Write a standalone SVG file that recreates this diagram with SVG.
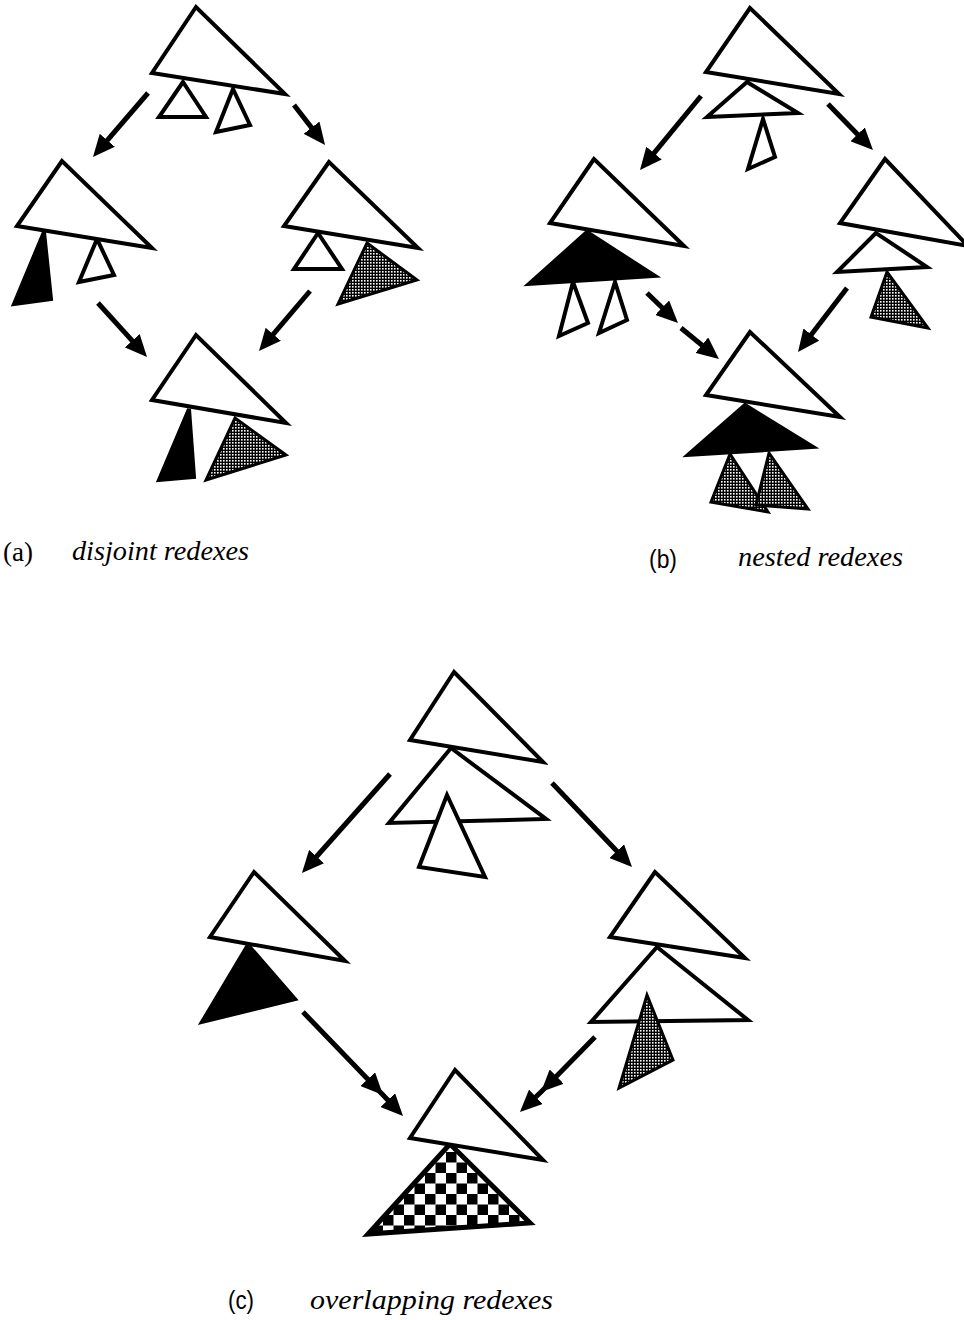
<svg xmlns="http://www.w3.org/2000/svg" width="964" height="1320" viewBox="0 0 964 1320">
<defs>
  <pattern id="dots" patternUnits="userSpaceOnUse" width="3" height="3">
    <rect width="3" height="3" fill="#000"/>
    <rect x="1" y="1" width="1.6" height="1.6" fill="#fff"/>
  </pattern>
  <pattern id="check" patternUnits="userSpaceOnUse" x="446" y="1152" width="21" height="21">
    <rect width="21" height="21" fill="#fff"/>
    <rect width="10.5" height="10.5" fill="#000"/>
    <rect x="10.5" y="10.5" width="10.5" height="10.5" fill="#000"/>
  </pattern>
  <marker id="ah" markerUnits="userSpaceOnUse" viewBox="0 0 22 20" markerWidth="22" markerHeight="20" refX="12" refY="10" orient="auto">
    <path d="M0,0 L22,10 L0,20 z" fill="#000"/>
  </marker>
  <marker id="ahm" markerUnits="userSpaceOnUse" viewBox="0 0 22 20" markerWidth="22" markerHeight="20" refX="22" refY="10" orient="auto">
    <path d="M0,0 L22,10 L0,20 z" fill="#000"/>
  </marker>
</defs>
<style>
  polygon { stroke: #000; stroke-width: 4; stroke-linejoin: miter; }
  .w { fill: #fff; }
  .b { fill: #000; }
  .g { fill: url(#dots); stroke-width: 3; }
  .c { fill: url(#check); stroke-width: 5; }
  .arr path, .arr line { stroke: #000; stroke-width: 5; fill: none; marker-end: url(#ah); }
  .dbl { marker-mid: url(#ahm); }
  .up { font-family: "Liberation Serif", "Times New Roman", serif; font-size: 27px; fill: #000; }
  .sf { font-family: "Liberation Sans", Arial, sans-serif; font-size: 25px; fill: #000; }
  .it { font-family: "Liberation Serif", "Times New Roman", serif; font-style: italic; font-size: 28px; fill: #000; }
</style>

<!-- Panel (a) -->
<g id="a-top">
  <polygon class="w" points="183,82 159,117 206,117"/>
  <polygon class="w" points="233,89 216,132 250,125"/>
  <polygon class="w" points="196,7 152,73 285,94"/>
</g>
<g id="a-left">
  <polygon class="b" points="44,232 14,304 51,299"/>
  <polygon class="w" points="97,239 79,282 114,275"/>
  <polygon class="w" points="62,161 17,226 152,248"/>
</g>
<g id="a-right">
  <polygon class="w" points="318,233 294,269 342,269"/>
  <polygon class="g" points="367,243 417,280 338,304"/>
  <polygon class="w" points="329,162 284,226 418,248"/>
</g>
<g id="a-bottom">
  <polygon class="b" points="189,409 159,480 194,477"/>
  <polygon class="g" points="235,418 286,455 206,480"/>
  <polygon class="w" points="196,335 152,400 286,423"/>
</g>

<!-- Panel (b) -->
<g id="b-top">
  <polygon class="w" points="763,119 748,169 775,157"/>
  <polygon class="w" points="747,82 707,117 798,113"/>
  <polygon class="w" points="750,8 706,72 839,94"/>
</g>
<g id="b-left">
  <polygon class="w" points="573,282 559,336 588,323"/>
  <polygon class="w" points="615,282 599,333 627,320"/>
  <polygon class="b" points="587,232 529,284 655,276"/>
  <polygon class="w" points="594,159 550,223 684,246"/>
</g>
<g id="b-right">
  <polygon class="g" points="887,272 871,317 928,328"/>
  <polygon class="w" points="876,233 837,272 927,267"/>
  <polygon class="w" points="885,159 840,223 968,246"/>
</g>
<g id="b-bottom">
  <polygon class="g" points="730,454 711,502 768,512"/>
  <polygon class="g" points="769,453 756,505 808,509"/>
  <polygon class="b" points="745,405 688,455 813,447"/>
  <polygon class="w" points="750,332 706,395 840,417"/>
</g>

<!-- Panel (c) -->
<g id="c-top">
  <polygon class="w" points="451,748 389,823 546,819"/>
  <polygon class="w" points="447,795 419,867 485,877"/>
  <polygon class="w" points="454,672 410,740 543,762"/>
</g>
<g id="c-left">
  <polygon class="b" points="248,945 295,999 202,1022"/>
  <polygon class="w" points="254,872 210,937 345,961"/>
</g>
<g id="c-right">
  <polygon class="w" points="657,947 591,1022 748,1020"/>
  <polygon class="g" points="647,995 673,1060 619,1088"/>
  <polygon class="w" points="655,872 610,937 745,958"/>
</g>
<g id="c-bottom">
  <polygon class="c" points="450,1144 368,1234 530,1223"/>
  <polygon class="w" points="455,1070 410,1138 543,1160"/>
</g>

<!-- Connectors -->
<g id="connectors" class="arr">
  <line x1="148" y1="93" x2="99.5" y2="149.4"/>
  <line x1="294" y1="105" x2="318.9" y2="137.1"/>
  <line x1="98" y1="303" x2="140.3" y2="349.6"/>
  <line x1="310" y1="291" x2="265.5" y2="343.4"/>
  <line x1="701" y1="96" x2="646.4" y2="162.3"/>
  <line x1="828" y1="104" x2="866" y2="142.9"/>
  <line x1="647" y1="293" x2="670.8" y2="316"/>
  <line x1="681" y1="328" x2="711.2" y2="352.7"/>
  <line x1="847" y1="288" x2="804.1" y2="344.1"/>
  <line x1="390" y1="774" x2="308.6" y2="865.5"/>
  <line x1="552" y1="783" x2="625.1" y2="859.8"/>
  <path class="dbl" d="M303,1012 L383,1095 L396.1,1108.8"/>
  <path class="dbl" d="M595,1037 L541,1092 L527.2,1105.1"/>
</g>

<!-- Labels -->
<g id="labels">
  <text class="up" x="3" y="561" textLength="30" lengthAdjust="spacingAndGlyphs">(a)</text>
  <text class="it" x="72" y="560" textLength="177" lengthAdjust="spacingAndGlyphs">disjoint redexes</text>
  <text class="sf" x="649" y="568" textLength="28" lengthAdjust="spacingAndGlyphs">(b)</text>
  <text class="it" x="738" y="566" textLength="165" lengthAdjust="spacingAndGlyphs">nested redexes</text>
  <text class="sf" x="228" y="1309" textLength="26" lengthAdjust="spacingAndGlyphs">(c)</text>
  <text class="it" x="310" y="1309" textLength="243" lengthAdjust="spacingAndGlyphs">overlapping redexes</text>
</g>
</svg>
